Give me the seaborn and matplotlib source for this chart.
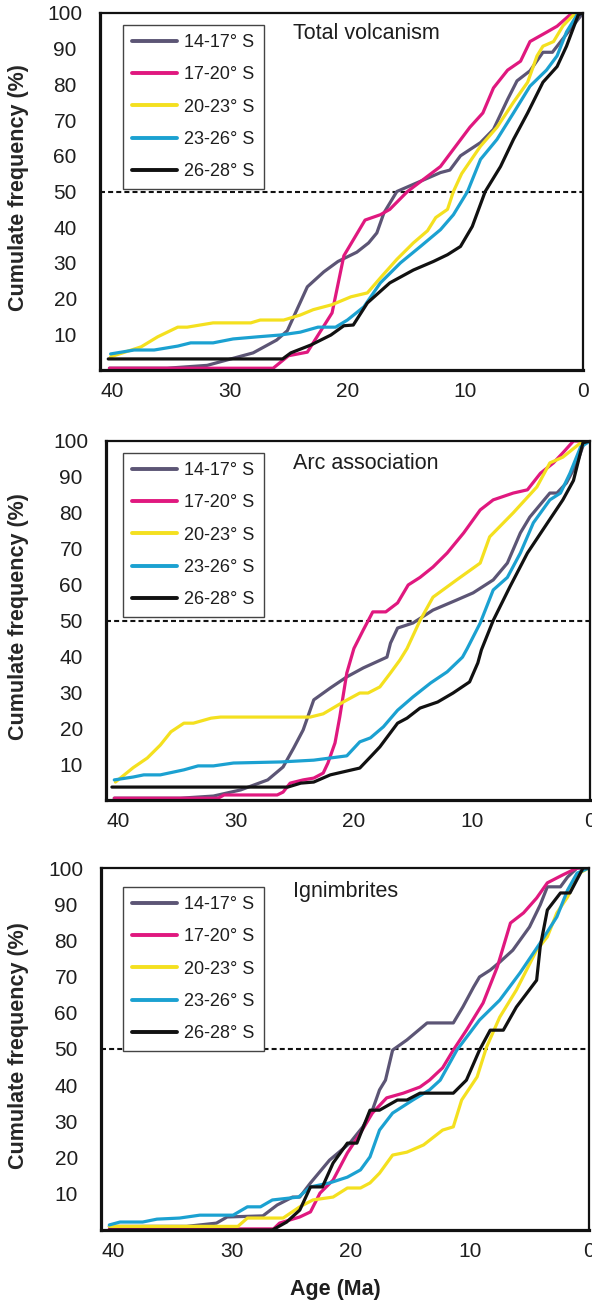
import matplotlib
matplotlib.use("Agg")
import matplotlib.pyplot as plt
from matplotlib.lines import Line2D
import pandas as pd
import seaborn as sns

# ---------------------------------------------------------------- labels
bands = ["14-17° S", "17-20° S", "20-23° S", "23-26° S", "26-28° S"]
band_colors = ["#5c5575", "#e0187f", "#f4e01f", "#1ba1d1", "#111111"]
panel_titles = ["Total volcanism", "Arc association", "Ignimbrites"]
x_tick_values = list(range(0, 41, 2))
x_tick_labels = [str(v) if v % 10 == 0 else "" for v in x_tick_values]
y_tick_values = list(range(0, 101, 10))
y_tick_labels = [str(v) if v else "" for v in y_tick_values]

# ---------------------------------------------------------------- total volcanism
total_1417_age = [40.2, 35.3, 31.9, 28.0, 26.0, 25.1, 23.4, 22.0, 20.8, 19.2, 18.2, 17.5, 16.9,
                  15.8, 14.4, 12.1, 11.3, 10.4, 8.7, 7.6, 6.4, 5.6, 4.5, 3.4, 2.6, 0]
total_1417_pct = [0.5, 0.5, 1.3, 4.8, 8.4, 11, 23.3, 27.5, 30.4, 33, 35.6, 38.4, 44,
                  50, 52, 55.3, 56, 60, 63.7, 67.4, 75.8, 81, 83.8, 89, 89, 100]
total_1720_age = [40.2, 26.3, 25.0, 23.4, 21.3, 20.3, 18.5, 17.2, 16.4, 14.9, 12.1, 9.6, 8.5,
                  7.6, 6.4, 5.3, 4.5, 3.1, 2.2, 1.1, 0.6, 0]
total_1720_pct = [0.5, 0.5, 4.0, 5, 16, 32, 42, 43.5, 45, 50, 57, 68, 72,
                  79, 84, 86.5, 92, 94.6, 96.3, 99.5, 100, 100]
total_2023_age = [40.1, 37.5, 36.1, 34.4, 33.6, 31.4, 28.2, 27.4, 25.4, 24.0, 22.9, 21.3, 19.7,
                  18.3, 17.2, 15.8, 14.4, 13.2, 12.5, 11.5, 11.0, 10.3, 8.7, 7.3, 5.9, 4.7,
                  3.9, 3.4, 2.5, 1.7, 0.8, 0]
total_2023_pct = [3.7, 6.5, 9.3, 12, 12, 13.2, 13.2, 14, 14, 15.4, 16.9, 18.3, 20.5,
                  21.6, 25.8, 31, 35.6, 39, 42.7, 45, 50, 55, 62.7, 68, 75, 80.6,
                  88, 90.7, 92, 96.4, 99.5, 100]
total_2326_age = [40.1, 38.1, 36.4, 34.4, 33.3, 31.4, 29.7, 27.6, 25.7, 24.0, 22.5, 21.0, 20.0,
                  18.6, 17.2, 15.5, 13.8, 12.1, 11.0, 9.8, 8.7, 7.3, 5.9, 4.5, 3.1, 2.2,
                  1.4, 0.5, 0]
total_2326_pct = [4.5, 5.6, 5.6, 6.7, 7.6, 7.6, 8.7, 9.3, 9.8, 10.6, 12, 12, 14,
                  17.7, 24.4, 30, 34.6, 39.3, 43.5, 50, 59, 64.6, 72, 79.5, 84, 88,
                  94.7, 99.5, 100]
total_2628_age = [40.3, 25.5, 24.8, 23.1, 21.4, 20.3, 19.5, 18.3, 16.4, 14.4, 12.7, 11.5, 10.4,
                  9.4, 8.3, 7.0, 5.9, 4.7, 3.4, 2.2, 1.4, 0.4, 0]
total_2628_pct = [3.1, 3.1, 4.8, 7, 9.8, 12.4, 12.6, 18.8, 24.4, 28, 30.4, 32.3, 34.6,
                  40.2, 50, 57, 64.6, 72, 80.6, 85, 90.7, 99.5, 100]

# ---------------------------------------------------------------- arc association
arc_1417_age = [40.3, 34.7, 31.9, 29.6, 27.3, 26.0, 25.1, 24.3, 23.4, 22.0, 20.6, 19.2, 17.2,
                16.9, 16.3, 15.0, 13.3, 11.3, 9.9, 8.2, 7.0, 5.9, 5.1, 3.4, 2.8, 2.0, 1.1, 0.5, 0]
arc_1417_pct = [0.5, 0.5, 1.1, 2.8, 5.6, 9.2, 14.5, 19.5, 27.9, 31.2, 34.3, 36.8, 39.8,
                43.7, 47.9, 49.3, 52.9, 55.7, 57.7, 61.3, 66, 74.4, 78.8, 85.5, 85.5, 88.3,
                93.9, 99.5, 100]
arc_1720_age = [40.3, 31.5, 31.0, 26.5, 26.0, 25.4, 24.3, 23.4, 22.6, 22.2, 21.6, 21.2, 20.6,
                20.0, 19.2, 18.4, 17.3, 16.3, 15.4, 14.4, 13.3, 12.1, 10.7, 9.3, 8.2, 6.5,
                5.3, 4.2, 3.1, 2.3, 1.4, 0]
arc_1720_pct = [0.5, 0.5, 1.4, 1.4, 2.2, 4.7, 5.6, 6.1, 7.5, 10.3, 15.9, 23.1, 35.4,
                42.2, 47.4, 52.4, 52.4, 54.9, 59.9, 62, 64.9, 68.8, 74.4, 80.8, 83.6, 85.5,
                86.4, 91, 93.9, 96.7, 100, 100]
arc_2023_age = [40.2, 38.7, 37.5, 36.4, 35.5, 34.4, 33.6, 32.1, 31.3, 23.7, 22.6, 20.9, 19.5,
                18.8, 17.8, 16.9, 16.1, 15.5, 14.4, 13.3, 11.3, 9.3, 8.5, 6.5, 4.5, 3.4,
                2.3, 0.6, 0]
arc_2023_pct = [5, 9, 11.7, 15.3, 19, 21.4, 21.4, 22.8, 23.1, 23.1, 24, 27.3, 29.8,
                29.8, 31.5, 35.4, 39, 42.2, 50, 56.5, 61.3, 66, 73.3, 80, 87.2, 93.9,
                95.5, 100, 100]
arc_2326_age = [40.3, 38.7, 37.8, 36.4, 34.4, 33.2, 31.9, 30.2, 26.2, 23.4, 20.6, 19.5, 18.6,
                17.5, 16.3, 15.0, 13.5, 12.1, 10.8, 10.4, 9.3, 8.2, 7.0, 5.9, 4.8, 3.4,
                2.5, 1.7, 0.8, 0]
arc_2326_pct = [5.6, 6.4, 7, 7, 8.4, 9.5, 9.5, 10.3, 10.6, 11.1, 12.3, 16.2, 17.3,
                20.4, 25, 28.7, 32.6, 35.7, 39.8, 42.2, 49.3, 58.5, 62, 68.8, 77.2, 83.6,
                85.5, 91, 98.3, 100]
arc_2628_age = [40.5, 25.6, 24.5, 23.4, 22.0, 19.5, 18.6, 17.8, 16.3, 15.5, 14.4, 12.9, 11.6,
                10.2, 9.5, 9.2, 8.2, 6.8, 5.3, 3.6, 2.3, 1.4, 0.6, 0]
arc_2628_pct = [3.6, 3.6, 4.7, 5, 7, 8.9, 12, 14.8, 21.4, 22.8, 25.6, 27.3, 29.8,
                32.9, 38.2, 41.8, 50, 59.3, 68.8, 77.2, 83.6, 89, 99.5, 100]

# ---------------------------------------------------------------- ignimbrites
ign_1417_age = [40.3, 33.8, 31.3, 30.4, 27.4, 26.2, 24.9, 24.3, 23.4, 21.8, 20.1, 19.0, 18.2,
                17.6, 17.1, 16.5, 15.3, 13.6, 11.4, 10.6, 9.7, 9.2, 8.3, 7.5, 6.4, 5.0,
                4.1, 3.5, 2.4, 1.8, 1.0, 0]
ign_1417_pct = [1, 1, 1.9, 3.6, 3.9, 6.9, 9.1, 9.1, 13, 19.3, 24, 28.5, 33.1,
                38.7, 41.4, 49.7, 52.5, 57.2, 57.2, 61.6, 67.1, 69.9, 71.8, 74, 77.3, 83.7,
                89.8, 94.8, 94.8, 97.5, 100, 100]
ign_1720_age = [40.3, 26.5, 26.0, 24.3, 23.4, 22.6, 21.5, 20.3, 19.2, 18.2, 17.0, 15.6, 14.2,
                13.4, 12.3, 11.4, 10.3, 8.9, 7.7, 6.6, 5.5, 4.4, 3.5, 2.2, 1.0, 0]
ign_1720_pct = [0.3, 0.3, 1.9, 3.6, 5, 10.2, 13.8, 21.3, 26.8, 32.3, 36.5, 37.8, 39.5,
                41.4, 44.8, 49.7, 55.2, 62.7, 72.7, 84.8, 87.6, 91.7, 95.9, 98.1, 100, 100]
ign_2023_age = [40.3, 29.5, 28.7, 25.7, 24.3, 23.2, 21.5, 20.3, 19.2, 18.4, 17.6, 16.5, 15.3,
                13.9, 12.3, 11.4, 10.7, 9.4, 8.6, 7.5, 6.1, 4.4, 3.5, 2.7, 1.8, 0.8, 0]
ign_2023_pct = [1, 1, 3.3, 3.3, 6.4, 8.3, 9.1, 11.6, 11.6, 13, 15.7, 20.7, 21.5,
                23.5, 27.6, 28.5, 35.9, 42.3, 50.6, 58.8, 66.3, 77.3, 81, 87.6, 92, 98.6, 100]
ign_2326_age = [40.3, 39.4, 37.5, 36.3, 34.4, 32.7, 29.9, 28.7, 27.6, 26.6, 24.4, 23.4, 21.8,
                20.3, 19.2, 18.4, 17.6, 16.5, 14.8, 13.4, 12.5, 11.1, 9.2, 7.5, 5.8, 4.1,
                2.7, 1.8, 1.0, 0]
ign_2326_pct = [1.4, 2.2, 2.2, 3, 3.3, 4.1, 4.1, 6.4, 6.4, 8.3, 9.1, 11.9, 13,
                14.6, 16.6, 20.2, 27.6, 32.3, 35.9, 38.7, 41.4, 49.7, 58, 63.5, 71, 79.3,
                86.5, 93.9, 98.6, 100]
ign_2628_age = [40.3, 26.6, 25.4, 24.3, 23.4, 22.4, 21.5, 20.3, 19.5, 18.4, 17.6, 16.1, 15.3,
                14.2, 11.4, 10.3, 9.2, 8.3, 7.2, 6.1, 4.4, 4.1, 3.5, 2.4, 1.6, 0.5, 0]
ign_2628_pct = [0, 0, 2.2, 5.5, 11.9, 11.9, 18.5, 24, 24, 33.1, 33.1, 35.9, 35.9,
                37.8, 37.8, 41.4, 49.7, 55.2, 55.2, 61.6, 69, 78.2, 88.4, 93.1, 93.1, 100, 100]

panel_ages = [
    [total_1417_age, total_1720_age, total_2023_age, total_2326_age, total_2628_age],
    [arc_1417_age, arc_1720_age, arc_2023_age, arc_2326_age, arc_2628_age],
    [ign_1417_age, ign_1720_age, ign_2023_age, ign_2326_age, ign_2628_age],
]
panel_pcts = [
    [total_1417_pct, total_1720_pct, total_2023_pct, total_2326_pct, total_2628_pct],
    [arc_1417_pct, arc_1720_pct, arc_2023_pct, arc_2326_pct, arc_2628_pct],
    [ign_1417_pct, ign_1720_pct, ign_2023_pct, ign_2326_pct, ign_2628_pct],
]

# ---------------------------------------------------------------- style
sns.set_style("white")
plt.rcParams["font.family"] = ["Liberation Sans", "DejaVu Sans"]
plt.rcParams["text.color"] = "#1e1e1e"

W, H = 592, 1301
fig = plt.figure(figsize=(W / 100, H / 100), dpi=100)

# axes boxes in pixels: left, right, top, bottom
boxes = [(100, 583, 13, 370), (106, 590, 441, 800), (101, 589, 868, 1230)]
legend_tops = [25, 453, 887]
title_baselines = [39, 469, 897]

palette = dict(zip(bands, band_colors))

for i, (l, r, t, b) in enumerate(boxes):
    ax = fig.add_axes([l / W, 1 - b / H, (r - l) / W, (b - t) / H])

    frames = []
    for band, a, p in zip(bands, panel_ages[i], panel_pcts[i]):
        frames.append(pd.DataFrame({"age": a, "pct": p, "band": band}))
    df = pd.concat(frames, ignore_index=True)

    ax.axhline(50, color="#111111", lw=1.5, linestyle=(0, (2.4, 1.5)), zorder=1)
    sns.lineplot(data=df, x="age", y="pct", hue="band", hue_order=bands,
                 palette=palette, sort=False, estimator=None, lw=2.3,
                 legend=False, ax=ax, zorder=2)

    ax.set_xlim(41, 0)
    ax.set_ylim(0, 100)
    ax.set_xticks(x_tick_values)
    ax.set_xticklabels(x_tick_labels)
    ax.set_yticks(y_tick_values)
    ax.set_yticklabels(y_tick_labels)
    ax.tick_params(axis="both", direction="out", length=3.6, width=1.5,
                   color="#111111", labelsize=15, labelcolor="#1e1e1e")
    ax.tick_params(axis="y", pad=21.5)
    ax.tick_params(axis="x", pad=5)
    for lab in ax.get_yticklabels():
        lab.set_horizontalalignment("center")

    for side in ["left", "bottom"]:
        ax.spines[side].set_linewidth(2.3)
        ax.spines[side].set_color("#111111")
    for side in ["top", "right"]:
        ax.spines[side].set_linewidth(1.6)
        ax.spines[side].set_color("#111111")
        ax.spines[side].set_visible(True)

    ax.set_xlabel("")
    ax.set_ylabel("Cumulate frequency (%)", fontsize=15.5, fontweight="bold")
    ax.yaxis.set_label_coords((29 - l) / (r - l), 0.51)

    ax.text((293 - l) / (r - l), (b - title_baselines[i]) / (b - t), panel_titles[i],
            transform=ax.transAxes, fontsize=15.5, va="baseline", ha="left")

    handles = [Line2D([], [], color=c, lw=2.8) for c in band_colors]
    leg = ax.legend(handles, bands, loc="upper left",
                    bbox_to_anchor=((123 - l) / (r - l), (b - legend_tops[i]) / (b - t)),
                    borderaxespad=0, fontsize=13, frameon=True, fancybox=False,
                    edgecolor="#444444", framealpha=1, handlelength=2.5,
                    handletextpad=0.4, labelspacing=0.85, borderpad=0.5)
    leg.get_frame().set_linewidth(1.0)

fig.text(335 / W, 1 - 1290 / H, "Age (Ma)", fontsize=15.5, fontweight="bold",
         ha="center", va="center")

fig.savefig("out.png", dpi=100)
